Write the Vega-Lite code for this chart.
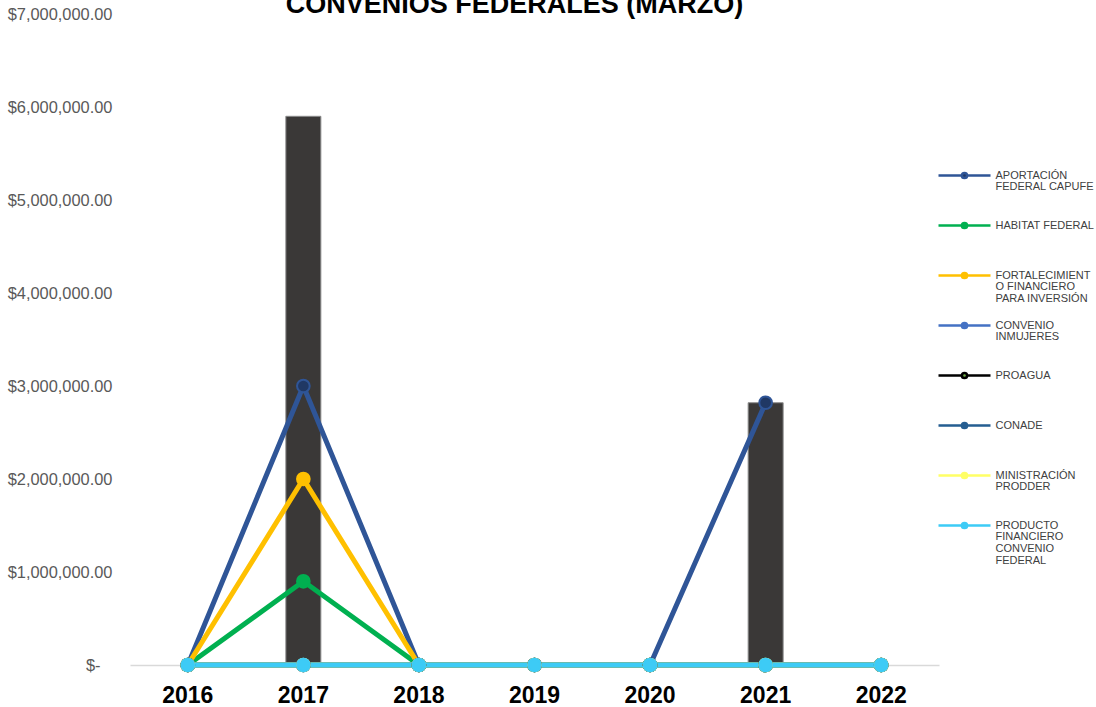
{
  "$schema": "https://vega.github.io/schema/vega-lite/v6.json",
  "width": 809,
  "height": 651,
  "autosize": "none",
  "padding": {"left": 130, "top": 14, "right": 157, "bottom": 42},
  "background": "white",
  "config": {"view": {"stroke": null}, "font": "Liberation Sans"},
  "title": {"text": "CONVENIOS FEDERALES (MARZO)", "fontSize": 27, "fontWeight": "bold", "color": "#000000", "anchor": "middle", "offset": 0, "dx": -20, "dy": 34, "baseline": "alphabetic"},
  "datasets": {
    "totales": [
      {"anio": "2017", "valor": 5900000},
      {"anio": "2021", "valor": 2820000}
    ],
    "series": [
      {"anio": "2016", "serie": "APORTACIÓN FEDERAL CAPUFE", "valor": 0},
      {"anio": "2017", "serie": "APORTACIÓN FEDERAL CAPUFE", "valor": 3000000},
      {"anio": "2018", "serie": "APORTACIÓN FEDERAL CAPUFE", "valor": 0},
      {"anio": "2019", "serie": "APORTACIÓN FEDERAL CAPUFE", "valor": 0},
      {"anio": "2020", "serie": "APORTACIÓN FEDERAL CAPUFE", "valor": 0},
      {"anio": "2021", "serie": "APORTACIÓN FEDERAL CAPUFE", "valor": 2820000},
      {"anio": "2016", "serie": "HABITAT FEDERAL", "valor": 0},
      {"anio": "2017", "serie": "HABITAT FEDERAL", "valor": 900000},
      {"anio": "2018", "serie": "HABITAT FEDERAL", "valor": 0},
      {"anio": "2019", "serie": "HABITAT FEDERAL", "valor": 0},
      {"anio": "2020", "serie": "HABITAT FEDERAL", "valor": 0},
      {"anio": "2021", "serie": "HABITAT FEDERAL", "valor": 0},
      {"anio": "2022", "serie": "HABITAT FEDERAL", "valor": 0},
      {"anio": "2016", "serie": "FORTALECIMIENTO FINANCIERO PARA INVERSIÓN", "valor": 0},
      {"anio": "2017", "serie": "FORTALECIMIENTO FINANCIERO PARA INVERSIÓN", "valor": 2000000},
      {"anio": "2018", "serie": "FORTALECIMIENTO FINANCIERO PARA INVERSIÓN", "valor": 0},
      {"anio": "2019", "serie": "FORTALECIMIENTO FINANCIERO PARA INVERSIÓN", "valor": 0},
      {"anio": "2020", "serie": "FORTALECIMIENTO FINANCIERO PARA INVERSIÓN", "valor": 0},
      {"anio": "2021", "serie": "FORTALECIMIENTO FINANCIERO PARA INVERSIÓN", "valor": 0},
      {"anio": "2022", "serie": "FORTALECIMIENTO FINANCIERO PARA INVERSIÓN", "valor": 0},
      {"anio": "2016", "serie": "CONVENIO INMUJERES", "valor": 0},
      {"anio": "2017", "serie": "CONVENIO INMUJERES", "valor": 0},
      {"anio": "2018", "serie": "CONVENIO INMUJERES", "valor": 0},
      {"anio": "2019", "serie": "CONVENIO INMUJERES", "valor": 0},
      {"anio": "2020", "serie": "CONVENIO INMUJERES", "valor": 0},
      {"anio": "2021", "serie": "CONVENIO INMUJERES", "valor": 0},
      {"anio": "2022", "serie": "CONVENIO INMUJERES", "valor": 0},
      {"anio": "2016", "serie": "PROAGUA", "valor": 0},
      {"anio": "2017", "serie": "PROAGUA", "valor": 0},
      {"anio": "2018", "serie": "PROAGUA", "valor": 0},
      {"anio": "2019", "serie": "PROAGUA", "valor": 0},
      {"anio": "2020", "serie": "PROAGUA", "valor": 0},
      {"anio": "2021", "serie": "PROAGUA", "valor": 0},
      {"anio": "2022", "serie": "PROAGUA", "valor": 0},
      {"anio": "2016", "serie": "CONADE", "valor": 0},
      {"anio": "2017", "serie": "CONADE", "valor": 0},
      {"anio": "2018", "serie": "CONADE", "valor": 0},
      {"anio": "2019", "serie": "CONADE", "valor": 0},
      {"anio": "2020", "serie": "CONADE", "valor": 0},
      {"anio": "2021", "serie": "CONADE", "valor": 0},
      {"anio": "2022", "serie": "CONADE", "valor": 0},
      {"anio": "2016", "serie": "MINISTRACIÓN PRODDER", "valor": 0},
      {"anio": "2017", "serie": "MINISTRACIÓN PRODDER", "valor": 0},
      {"anio": "2018", "serie": "MINISTRACIÓN PRODDER", "valor": 0},
      {"anio": "2019", "serie": "MINISTRACIÓN PRODDER", "valor": 0},
      {"anio": "2020", "serie": "MINISTRACIÓN PRODDER", "valor": 0},
      {"anio": "2021", "serie": "MINISTRACIÓN PRODDER", "valor": 0},
      {"anio": "2022", "serie": "MINISTRACIÓN PRODDER", "valor": 0},
      {"anio": "2016", "serie": "PRODUCTO FINANCIERO CONVENIO FEDERAL", "valor": 0},
      {"anio": "2017", "serie": "PRODUCTO FINANCIERO CONVENIO FEDERAL", "valor": 0},
      {"anio": "2018", "serie": "PRODUCTO FINANCIERO CONVENIO FEDERAL", "valor": 0},
      {"anio": "2019", "serie": "PRODUCTO FINANCIERO CONVENIO FEDERAL", "valor": 0},
      {"anio": "2020", "serie": "PRODUCTO FINANCIERO CONVENIO FEDERAL", "valor": 0},
      {"anio": "2021", "serie": "PRODUCTO FINANCIERO CONVENIO FEDERAL", "valor": 0},
      {"anio": "2022", "serie": "PRODUCTO FINANCIERO CONVENIO FEDERAL", "valor": 0}
    ]
  },
  "encoding": {
    "x": {
      "field": "anio", "type": "nominal",
      "scale": {"domain": ["2016", "2017", "2018", "2019", "2020", "2021", "2022"], "paddingInner": 0, "paddingOuter": 0},
      "axis": {"title": null, "labelAngle": 0, "labelFontSize": 23, "labelFontWeight": "bold", "labelColor": "#000000", "labelPadding": 19, "ticks": false, "domainColor": "#D9D9D9", "domainWidth": 1.5, "grid": false}
    },
    "y": {
      "field": "valor", "type": "quantitative",
      "scale": {"domain": [0, 7000000], "nice": false, "zero": true},
      "axis": {"title": null, "values": [0, 1000000, 2000000, 3000000, 4000000, 5000000, 6000000, 7000000], "labelExpr": "datum.value == 0 ? '$-\u2800' : format(datum.value, '$,.2f')", "labelFontSize": 16.4, "labelColor": "#595959", "labelPadding": 18, "ticks": false, "domain": false, "grid": false}
    }
  },
  "layer": [
    {
      "data": {"name": "totales"},
      "mark": {"type": "bar", "size": 35, "fill": "#3A3837", "stroke": "#8C8C8C", "strokeWidth": 1}
    },
    {
      "data": {"name": "series"},
      "mark": {"type": "line", "strokeWidth": 5},
      "encoding": {
        "stroke": {
          "field": "serie", "type": "nominal",
          "scale": {
            "domain": ["APORTACIÓN FEDERAL CAPUFE", "HABITAT FEDERAL", "FORTALECIMIENTO FINANCIERO PARA INVERSIÓN", "CONVENIO INMUJERES", "PROAGUA", "CONADE", "MINISTRACIÓN PRODDER", "PRODUCTO FINANCIERO CONVENIO FEDERAL"],
            "range": ["#2F5597", "#00B050", "#FFC000", "#4472C4", "#000000", "#255E91", "#FFFF66", "#3DCBF6"]
          },
          "legend": {
            "title": null, "orient": "none", "legendX": 829, "legendY": 156, "padding": 0,
            "symbolType": "M-13,0L-1.3,0M1.3,0L13,0M-1.3,0A1.3,1.3 0 1,0 1.3,0A1.3,1.3 0 1,0 -1.3,0Z",
            "symbolSize": 16, "symbolStrokeWidth": 2.5,
            "labelFontSize": 11, "labelColor": "#404040", "labelBaseline": "top", "labelOffset": 25.5, "rowPadding": 1, "labelLimit": 200,
            "labelExpr": "datum.label == 'APORTACIÓN FEDERAL CAPUFE' ? ['APORTACIÓN', 'FEDERAL CAPUFE', '', ''] : datum.label == 'HABITAT FEDERAL' ? ['HABITAT FEDERAL', '', '', ''] : datum.label == 'FORTALECIMIENTO FINANCIERO PARA INVERSIÓN' ? ['FORTALECIMIENT', 'O FINANCIERO', 'PARA INVERSIÓN', ''] : datum.label == 'CONVENIO INMUJERES' ? ['CONVENIO', 'INMUJERES', '', ''] : datum.label == 'PROAGUA' ? ['PROAGUA', '', '', ''] : datum.label == 'CONADE' ? ['CONADE', '', '', ''] : datum.label == 'MINISTRACIÓN PRODDER' ? ['MINISTRACIÓN', 'PRODDER', '', ''] : ['PRODUCTO', 'FINANCIERO', 'CONVENIO', 'FEDERAL']",
            "encode": {"labels": {"update": {"dy": {"value": -6}, "lineHeight": {"value": 11.8}}}}
          }
        }
      }
    },
    {
      "data": {"name": "series"},
      "mark": {"type": "point", "filled": true, "size": 160, "strokeWidth": 2, "opacity": 1},
      "encoding": {
        "stroke": {"field": "serie", "type": "nominal"},
        "fill": {
          "field": "serie", "type": "nominal",
          "scale": {
            "domain": ["APORTACIÓN FEDERAL CAPUFE", "HABITAT FEDERAL", "FORTALECIMIENTO FINANCIERO PARA INVERSIÓN", "CONVENIO INMUJERES", "PROAGUA", "CONADE", "MINISTRACIÓN PRODDER", "PRODUCTO FINANCIERO CONVENIO FEDERAL"],
            "range": ["#203864", "#00B050", "#FFC000", "#4472C4", "#70AD47", "#255E91", "#FFFF66", "#3DCBF6"]
          },
          "legend": {
            "title": null, "orient": "none", "legendX": 829, "legendY": 156, "padding": 0,
            "symbolType": "M-13,0L-1.3,0M1.3,0L13,0M-1.3,0A1.3,1.3 0 1,0 1.3,0A1.3,1.3 0 1,0 -1.3,0Z",
            "symbolSize": 16, "symbolStrokeWidth": 2.5,
            "labelFontSize": 11, "labelColor": "#404040", "labelBaseline": "top", "labelOffset": 25.5, "rowPadding": 1, "labelLimit": 200,
            "labelExpr": "datum.label == 'APORTACIÓN FEDERAL CAPUFE' ? ['APORTACIÓN', 'FEDERAL CAPUFE', '', ''] : datum.label == 'HABITAT FEDERAL' ? ['HABITAT FEDERAL', '', '', ''] : datum.label == 'FORTALECIMIENTO FINANCIERO PARA INVERSIÓN' ? ['FORTALECIMIENT', 'O FINANCIERO', 'PARA INVERSIÓN', ''] : datum.label == 'CONVENIO INMUJERES' ? ['CONVENIO', 'INMUJERES', '', ''] : datum.label == 'PROAGUA' ? ['PROAGUA', '', '', ''] : datum.label == 'CONADE' ? ['CONADE', '', '', ''] : datum.label == 'MINISTRACIÓN PRODDER' ? ['MINISTRACIÓN', 'PRODDER', '', ''] : ['PRODUCTO', 'FINANCIERO', 'CONVENIO', 'FEDERAL']",
            "encode": {"labels": {"update": {"dy": {"value": -6}, "lineHeight": {"value": 11.8}}}}
          }
        }
      }
    }
  ]
}
